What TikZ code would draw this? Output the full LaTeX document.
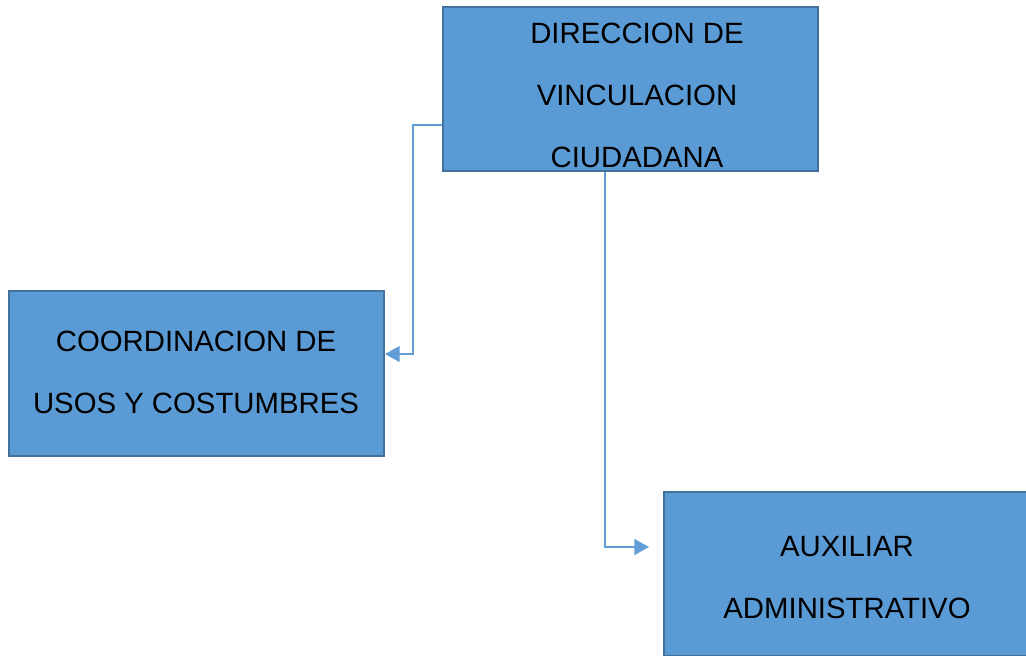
\documentclass[tikz,border=0pt]{standalone}
\usepackage{fontspec}
\setmainfont{Liberation Sans}
\usetikzlibrary{arrows.meta}
\definecolor{boxfill}{RGB}{91,155,213}
\definecolor{boxline}{RGB}{65,113,156}
\definecolor{linkcol}{RGB}{98,158,214}
\begin{document}
\begin{tikzpicture}[x=0.75pt, y=-0.75pt,
	box/.style={draw=boxline, fill=boxfill, line width=1.5pt, minimum width=281.25pt, minimum height=123pt, inner sep=0pt},
	label/.style={align=center, anchor=base, font=\fontsize{22}{46.5}\selectfont},
	link/.style={draw=linkcol, line width=1pt, -{Triangle[length=11pt, width=12pt]}}]
	\useasboundingbox (0,0) rectangle (1026,656);
	
	% boxes
	\node[box] (dir) at (630.5, 89) {};
	\node[box] (coord) at (196.5, 373.5) {};
	\node[box] (aux) at (851.5, 574) {};
	
	% texts (anchored on the last line)
	\node[label] (dirtext) at (637, 168) {DIRECCION DE\\VINCULACION\\CIUDADANA};
	\node[label] (coordtext) at (196, 413) {COORDINACION DE\\USOS Y COSTUMBRES};
	\node[label] (auxtext) at (847, 618) {AUXILIAR\\ADMINISTRATIVO};
	
	% connectors
	\draw[link] ([yshift=-27pt]dir.west) -- ++(-29, 0) |- ([yshift=14.6pt]coord.east);
	\draw[link] ([xshift=-19.1pt]dir.south) |- ([xshift=-10.5pt, yshift=20.25pt]aux.west);
\end{tikzpicture}
\end{document}
